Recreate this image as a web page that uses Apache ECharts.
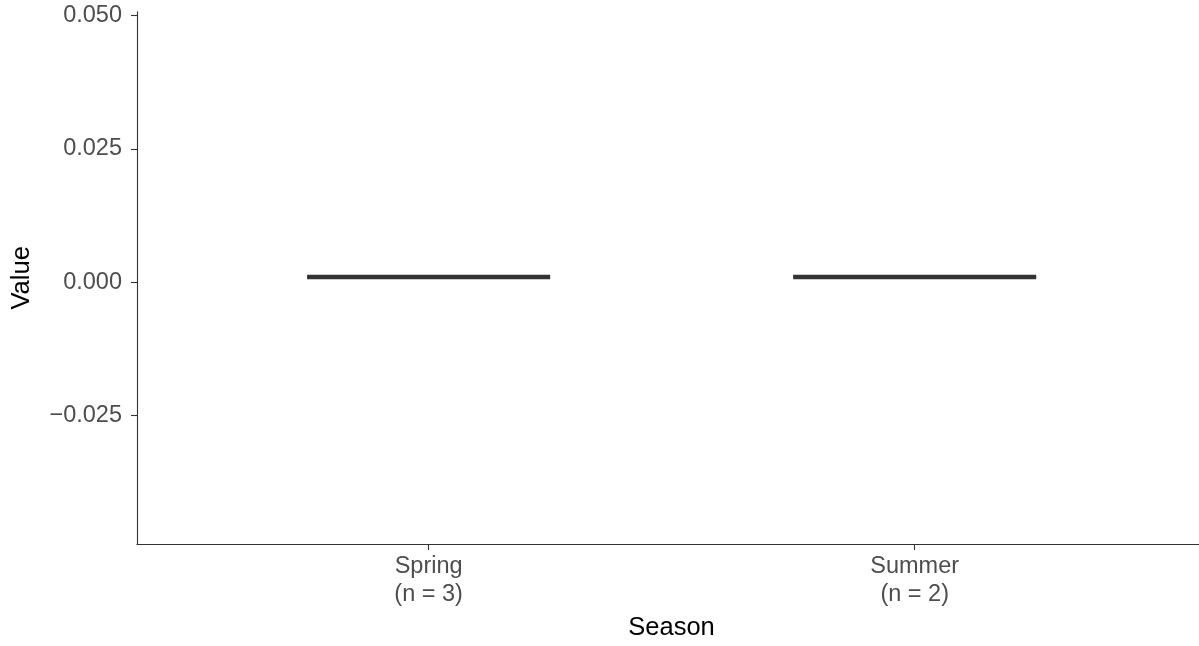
<!DOCTYPE html>
<html>
<head>
<meta charset="utf-8">
<script src="https://cdn.jsdelivr.net/npm/echarts@6/dist/echarts.min.js"></script>
<style>html,body{margin:0;padding:0;background:#fff}#c{width:1199px;height:646px}</style>
</head>
<body>
<div id="c"></div>
<script>
// Data
const categories = ['Spring', 'Summer'];
const counts = [3, 2];
// boxplot stats per season: [min, q1, median, q3, max]
const springStats = [0.001, 0.001, 0.001, 0.001, 0.001];
const summerStats = [0.001, 0.001, 0.001, 0.001, 0.001];
const yTicks = [-0.025, 0, 0.025, 0.05];
const yRange = [-0.04907, 0.05074];
const xRange = [0.4, 2.585];

const boxData = [
  [1].concat(springStats),
  [2].concat(summerStats)
];

const chart = echarts.init(document.getElementById('c'), null, {renderer: 'canvas'});
const FONT = 'Liberation Sans, Arial, sans-serif';
chart.setOption({
  animation: false,
  backgroundColor: '#ffffff',
  grid: {left: 137, right: 0, top: 11.7, bottom: 102, containLabel: false},
  xAxis: {
    type: 'value', min: xRange[0], max: xRange[1],
    name: 'Season', nameLocation: 'middle', nameGap: 71,
    nameTextStyle: {color: '#000', fontSize: 25.5, fontFamily: FONT, padding: [0, 0, 0, 7]},
    axisLine: {show: true, onZero: false, lineStyle: {color: '#333', width: 1.1}},
    axisTick: {show: true, length: 6, lineStyle: {color: '#333', width: 1.1}, customValues: [1, 2]},
    axisLabel: {
      customValues: [1, 2], margin: 9, color: '#4d4d4d', fontSize: 23.5, lineHeight: 27.5, fontFamily: FONT,
      formatter: v => { const i = Math.round(v) - 1; return categories[i] + '\n(n = ' + counts[i] + ')'; }
    },
    splitLine: {show: false}
  },
  yAxis: {
    type: 'value', min: yRange[0], max: yRange[1],
    name: 'Value', nameLocation: 'middle', nameGap: 102,
    nameTextStyle: {color: '#000', fontSize: 25.5, fontFamily: FONT},
    axisLine: {show: true, onZero: false, lineStyle: {color: '#333', width: 1.1}},
    axisTick: {show: true, length: 6, lineStyle: {color: '#333', width: 1.1}, customValues: yTicks},
    axisLabel: {
      customValues: yTicks, margin: 15, color: '#4d4d4d', fontSize: 23.5, fontFamily: FONT,
      formatter: v => v.toFixed(3).replace('-', '\u2212')
    },
    splitLine: {show: false}
  },
  series: [{
    type: 'custom',
    data: boxData,
    encode: {x: 0, y: [1, 2, 3, 4, 5]},
    renderItem: function (params, api) {
      const x = api.value(0);
      const half = 0.25;
      const pMin = api.coord([x, api.value(1)]);
      const pQ1 = api.coord([x, api.value(2)]);
      const pMed = api.coord([x, api.value(3)]);
      const pQ3 = api.coord([x, api.value(4)]);
      const pMax = api.coord([x, api.value(5)]);
      const left = api.coord([x - half, api.value(3)])[0];
      const right = api.coord([x + half, api.value(3)])[0];
      const stroke = {stroke: '#333333', lineWidth: 1.5, fill: null};
      return {
        type: 'group',
        children: [
          {type: 'line', shape: {x1: pMin[0], y1: pMin[1], x2: pQ1[0], y2: pQ1[1]}, style: stroke},
          {type: 'line', shape: {x1: pQ3[0], y1: pQ3[1], x2: pMax[0], y2: pMax[1]}, style: stroke},
          {type: 'rect', shape: {x: left, y: pQ3[1], width: right - left, height: pQ1[1] - pQ3[1]},
            style: {fill: '#ffffff', stroke: '#333333', lineWidth: 1.5}},
          {type: 'line', shape: {x1: left, y1: pMed[1], x2: right, y2: pMed[1]},
            style: {stroke: '#333333', lineWidth: 4.5}}
        ]
      };
    }
  }]
});
</script>
</body>
</html>
